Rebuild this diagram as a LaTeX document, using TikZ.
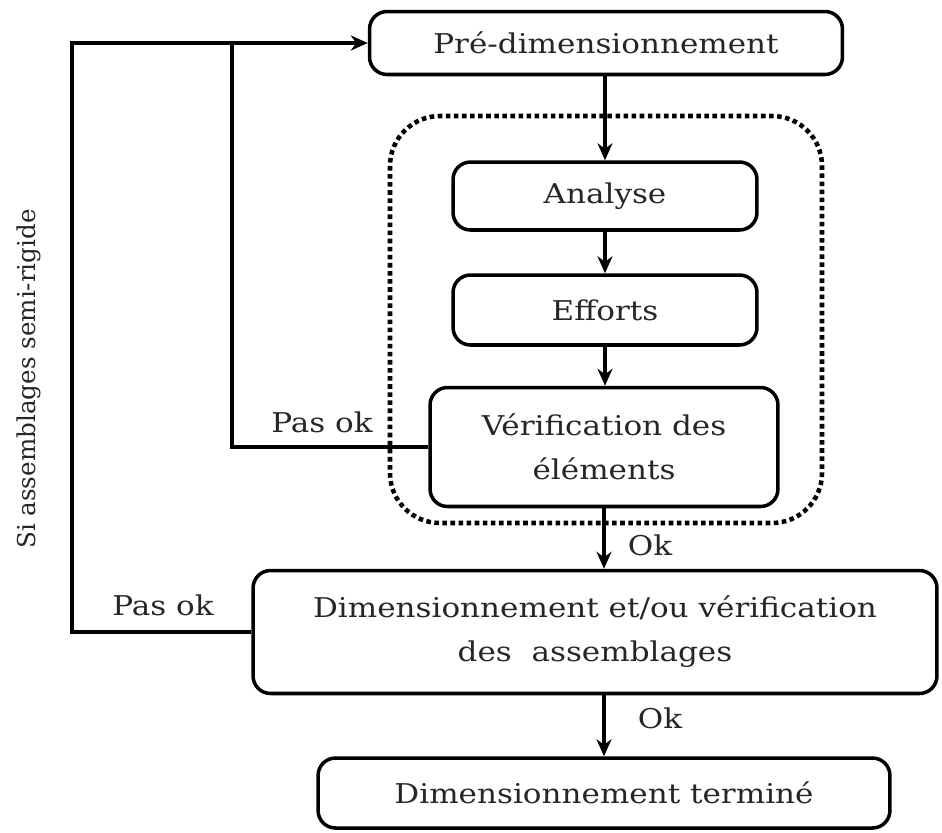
\documentclass[tikz,border=0pt]{standalone}
\usepackage{fontspec}
\setmainfont{DejaVu Serif}[FakeStretch=1.14]
\newfontfamily\serifetroite{DejaVu Serif}
\usetikzlibrary{positioning, arrows.meta}
\begin{document}
\begin{tikzpicture}[x=0.02cm, y=-0.02cm, >={Stealth[length=0.34cm, width=0.3cm]},
    every node/.style={font=\fontsize{15.5}{19}\selectfont, text=black!85},
    etape/.style={draw, rounded corners=0.35cm, line width=2pt, align=center, inner sep=0pt},
    lien/.style={line width=2pt},
    fleche/.style={->, line width=1.8pt}]
        \useasboundingbox (0, 0) rectangle (942, 832);
        % groupe de calcul
        \draw[line width=2.6pt, dotted, rounded corners=1cm] (390, 116) rectangle (822, 523);
        \node[etape, minimum width=9.46cm, minimum height=1.26cm] (pre) at (606, 43) {Pré-dimensionnement};
        \node[etape, minimum width=6.08cm, minimum height=1.36cm] (analyse) at (605, 196) {Analyse};
        \node[etape, minimum width=6.08cm, minimum height=1.4cm] (efforts) at (605, 310) {Efforts};
        \node[etape, minimum width=6.96cm, minimum height=2.38cm] (verif) at (604, 447) {Vérification des\\[6pt] éléments};
        \node[etape, minimum width=13.68cm, minimum height=2.46cm] (assemb) at (595, 632) {Dimensionnement et/ou vérification\\[6pt] des\ \ assemblages};
        \node[etape, minimum width=11.44cm, minimum height=1.4cm] (fin) at (604, 793) {Dimensionnement terminé};
        \coordinate (coin) at (72, 43);
        \coordinate (retour) at (232, 43);
        \draw[fleche] (analyse.north |- pre.south) -- (analyse);
        \draw[fleche] (analyse) -- (efforts);
        \draw[fleche] (efforts) -- (efforts |- verif.north);
        \draw[fleche] (verif) -- (verif |- assemb.north);
        \draw[fleche] (assemb.south -| fin) -- (fin);
        \draw[lien] (verif.west) -| (retour);
        \draw[lien, ->] (assemb.west) -| (coin) -- (pre.west);
        \node (pasok1) at (322, 422) {Pas ok};
        \node (pasok2) at (163, 605) {Pas ok};
        \node (ok1) at (650, 545) {Ok};
        \node (ok2) at (660, 718) {Ok};
        \node[rotate=90, font=\serifetroite\fontsize{14}{17}\selectfont] (semi) at (29, 379) {Si assemblages semi-rigide};
    \end{tikzpicture}
\end{document}
